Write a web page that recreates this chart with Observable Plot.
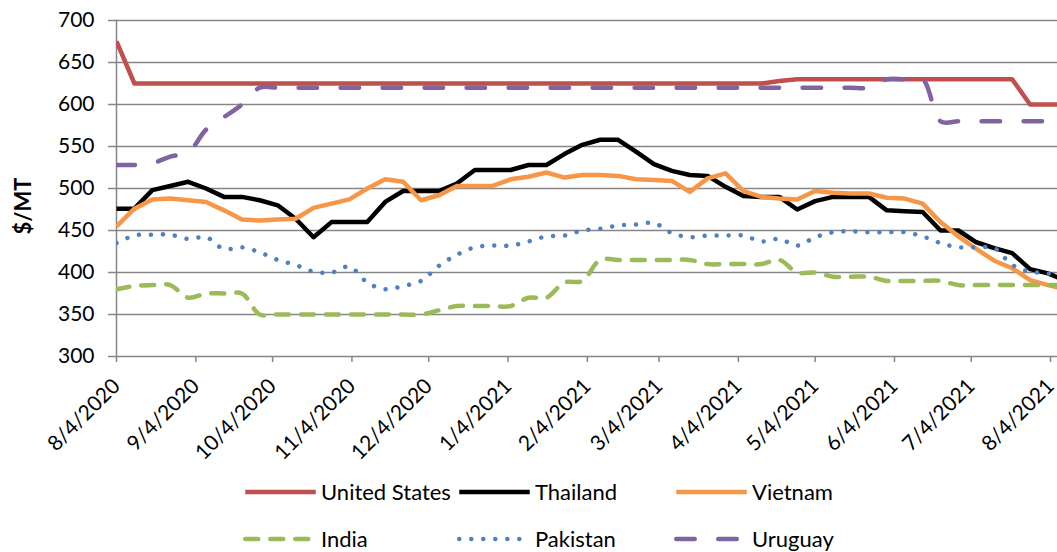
<!DOCTYPE html>
<html>
<head>
<meta charset="utf-8">
<script src="https://cdn.jsdelivr.net/npm/d3@7"></script>
<script src="https://cdn.jsdelivr.net/npm/@observablehq/plot@0.6"></script>
<style>
  body { margin: 0; background: #fff; font-family: Lato, "Open Sans", sans-serif; }
  #chart { position: relative; width: 1057px; height: 552px; overflow: hidden; background: #fff; }
  #legend { position: absolute; left: 0; top: 0; width: 1057px; height: 552px; pointer-events: none; }
  .item { position: absolute; display: flex; align-items: center; font-size: 22px; color: #000; line-height: 1; transform: translateY(-50%); white-space: nowrap; }
  .item svg { margin-right: 3px; display: block; }
  #ytitle { position: absolute; left: 23px; top: 206px; transform: translate(-50%, -50%) rotate(-90deg);
    font-weight: bold; font-size: 22px; line-height: 1; white-space: nowrap; color: #000; }
</style>
</head>
<body>
<div id="chart"></div>
<script>
// ---------- data ----------
const firstWeek = "2020-08-04";   // weekly observations start here
const axisEnd = "2021-08-06T17:00:00Z";
const tickLabels = ["8/4/2020","9/4/2020","10/4/2020","11/4/2020","12/4/2020","1/4/2021","2/4/2021","3/4/2021","4/4/2021","5/4/2021","6/4/2021","7/4/2021","8/4/2021"];
const yTicks = [300, 350, 400, 450, 500, 550, 600, 650, 700];
const yTitle = "$/MT";

const seriesNames = ["United States", "Thailand", "Vietnam", "India", "Pakistan", "Uruguay"];

const unitedStates = [675,625,625,625,625,625,625,625,625,625,625,625,625,625,625,625,625,625,625,625,
  625,625,625,625,625,625,625,625,625,625,625,625,625,625,625,625,625,628,630,630,
  630,630,630,630,630,630,630,630,630,630,630,600,600,600];
const thailand = [476,476,498,503,508,500,490,490,486,480,464,442,460,460,460,484,497,497,497,506,
  522,522,522,528,528,541,552,558,558,544,529,521,516,515,502,491,490,490,475,485,
  490,490,490,474,473,472,450,450,436,429,423,404,399,390];
const vietnam = [455,476,487,488,486,484,474,463,462,463,464,477,482,487,500,511,508,486,492,503,
  503,503,511,514,519,513,516,516,515,511,510,509,496,512,518,497,490,488,487,497,
  495,494,494,489,488,482,460,443,428,414,405,391,385,380];
const india = [380,384,385,385,370,375,375,375,350,350,350,350,350,350,350,350,350,350,355,360,
  360,360,360,370,370,388,390,415,415,415,415,415,415,410,410,410,410,415,400,400,
  395,395,395,390,390,390,390,385,385,385,385,385,385,385];
const pakistan = [435,444,445,445,440,442,428,430,424,415,409,401,400,407,388,380,384,390,408,421,
  430,432,432,437,443,444,450,452,456,457,459,447,442,444,444,444,437,440,432,442,
  448,449,448,448,448,443,435,430,430,429,409,401,399,395];
const uruguay = [528,528,530,538,543,570,585,600,620,620,620,620,620,620,620,620,620,620,620,620,
  620,620,620,620,620,620,620,620,620,620,620,620,620,620,620,620,620,620,620,620,
  620,620,620,630,630,630,580,580,580,580,580,580,580,580];

// ---------- styles ----------
const styles = {
  "United States": {stroke: "#C0504D", dash: null, curve: "linear"},
  "Thailand": {stroke: "#000000", dash: null, curve: "linear"},
  "Vietnam": {stroke: "#F79646", dash: null, curve: "linear"},
  "India": {stroke: "#9BBB59", dash: "13,12", curve: "catmull-rom"},
  "Pakistan": {stroke: "#4F81BD", dash: "0.01,12", curve: "catmull-rom"},
  "Uruguay": {stroke: "#8064A2", dash: "18.5,23.5", curve: "catmull-rom"}
};
const LW = 4.5;
const GRID = "#868686";

// ---------- build ----------
const start = new Date(firstWeek + "T00:00:00Z");
const dates = unitedStates.map((_, i) => d3.utcDay.offset(start, 7 * i));
const parse = d3.utcParse("%m/%d/%Y");
const tickDates = tickLabels.map(parse);
const fmt = d3.utcFormat("%-m/%-d/%Y");
const valuesBy = {
  "United States": unitedStates, "Thailand": thailand, "Vietnam": vietnam,
  "India": india, "Pakistan": pakistan, "Uruguay": uruguay
};

const lineMarks = seriesNames.map(name => {
  const s = styles[name];
  const rows = valuesBy[name].map((v, i) => ({date: dates[i], value: v}));
  return Plot.line(rows, {
    x: "date", y: "value", stroke: s.stroke, strokeWidth: LW,
    strokeDasharray: s.dash, strokeLinecap: s.dash ? "round" : "butt",
    strokeLinejoin: "round", curve: s.curve, clip: true
  });
});

const plot = Plot.plot({
  width: 1057, height: 472,
  marginTop: 20, marginLeft: 116, marginRight: 0, marginBottom: 116,
  style: {fontFamily: "Lato, 'Open Sans', sans-serif", fontSize: "21px", color: "#000", background: "#fff"},
  x: {type: "utc", domain: [start, new Date(axisEnd)]},
  y: {domain: [300, 700]},
  marks: [
    Plot.ruleY(yTicks, {stroke: GRID, strokeWidth: 1.5}),
    Plot.frame({anchor: "left", stroke: GRID, strokeWidth: 1.5}),
    Plot.axisY({ticks: yTicks, tickSize: 8, tickPadding: 14, stroke: GRID, strokeWidth: 1.5, fill: "#000", label: null}),
    Plot.axisX({ticks: tickDates, tickFormat: fmt, tickRotate: -45, tickSize: 6, tickPadding: 20,
      stroke: GRID, strokeWidth: 1.5, fill: "#000", label: null}),
    ...lineMarks
  ]
});

const chart = document.getElementById("chart");
chart.appendChild(plot);

// y-axis title
const yt = document.createElement("div");
yt.id = "ytitle";
yt.textContent = yTitle;
chart.appendChild(yt);

// ---------- legend ----------
const legend = document.createElement("div");
legend.id = "legend";
const cols = [243, 457, 674];
const rowsY = [492, 539];
seriesNames.forEach((name, i) => {
  const s = styles[name];
  const item = document.createElement("div");
  item.className = "item";
  item.style.left = cols[i % 3] + "px";
  item.style.top = rowsY[Math.floor(i / 3)] + "px";
  const svg = d3.create("svg").attr("width", 75).attr("height", 10);
  svg.append("line").attr("x1", LW / 2).attr("x2", 75 - LW / 2).attr("y1", 5).attr("y2", 5)
    .attr("stroke", s.stroke).attr("stroke-width", LW)
    .attr("stroke-linecap", s.dash ? "round" : "butt")
    .attr("stroke-dasharray", s.dash);
  item.appendChild(svg.node());
  const label = document.createElement("span");
  label.textContent = name;
  item.appendChild(label);
  legend.appendChild(item);
});
chart.appendChild(legend);
</script>
</body>
</html>
